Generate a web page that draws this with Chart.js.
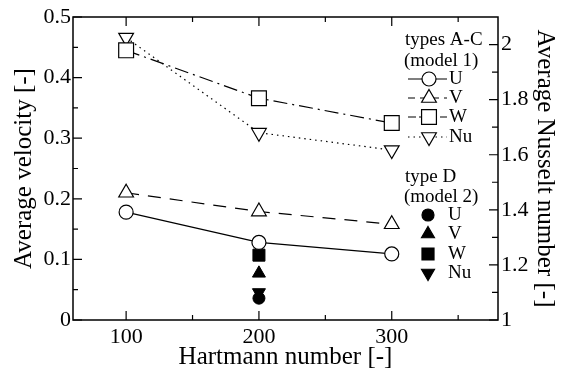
<!DOCTYPE html>
<html>
<head>
<meta charset="utf-8">
<script src="https://cdn.jsdelivr.net/npm/chart.js@4.4.1/dist/chart.umd.min.js"></script>
<style>
  body { margin: 0; background: #fff; }
  #wrap { width: 565px; height: 372px; }
</style>
</head>
<body>
<div id="wrap"><canvas id="hartmannChart" width="565" height="372"></canvas></div>
<script>
// types A-C (model 1)
const hartmann = [100, 200, 300];
const uModel1 = [0.178, 0.128, 0.109];
const vModel1 = [0.210, 0.179, 0.158];
const wModel1 = [0.445, 0.366, 0.325];
const nuModel1 = [2.025, 1.68, 1.617];

// type D (model 2)
const hartmannD = [200];
const uModel2 = [0.036];
const vModel2 = [0.077];
const wModel2 = [0.107];
const nuModel2 = [1.10];

// ticks
const xTicks = [100, 200, 300];
const xMinor = [150, 250, 350];
const velTicks = [0, 0.1, 0.2, 0.3, 0.4, 0.5];
const velMinor = [0.05, 0.15, 0.25, 0.35, 0.45];
const nuTicks = [1, 1.2, 1.4, 1.6, 1.8, 2];
const nuMinor = [1.1, 1.3, 1.5, 1.7, 1.9];

const serif = "'Liberation Serif', 'DejaVu Serif', serif";
Chart.defaults.font.family = serif;
Chart.defaults.color = '#000';

function pts(xs, ys) {
    return xs.map((x, i) => ({ x: x, y: ys[i] }));
}

const plainNum = v => String(+v.toFixed(2));
const noGrid = { display: false, drawTicks: false, tickLength: 0 };

// frame + inward ticks
const framePlugin = {
    id: 'frameTicks',
    afterDraw(chart) {
        const ctx = chart.ctx;
        const a = chart.chartArea;
        const sx = chart.scales.x, sy = chart.scales.y, sy2 = chart.scales.y2;
        ctx.save();
        ctx.strokeStyle = '#000';
        ctx.lineWidth = 1.5;
        ctx.strokeRect(a.left, a.top, a.right - a.left, a.bottom - a.top);
        ctx.lineWidth = 1.2;
        ctx.beginPath();
        const xt = (v, len) => {
            const p = sx.getPixelForValue(v);
            ctx.moveTo(p, a.bottom); ctx.lineTo(p, a.bottom - len);
            ctx.moveTo(p, a.top); ctx.lineTo(p, a.top + len);
        };
        xTicks.forEach(v => xt(v, 9));
        xMinor.forEach(v => xt(v, 5));
        const lt = (v, len) => {
            const p = sy.getPixelForValue(v);
            ctx.moveTo(a.left, p); ctx.lineTo(a.left + len, p);
        };
        velTicks.forEach(v => lt(v, 9));
        velMinor.forEach(v => lt(v, 5));
        const rt = (v, len) => {
            const p = sy2.getPixelForValue(v);
            ctx.moveTo(a.right, p); ctx.lineTo(a.right - len, p);
        };
        nuTicks.forEach(v => rt(v, 9));
        nuMinor.forEach(v => rt(v, 6));
        ctx.stroke();
        ctx.restore();
    }
};

const legendPlugin = {
    id: 'modelLegend',
    afterDraw(chart) {
        const ctx = chart.ctx;
        ctx.save();
        ctx.font = '19px ' + serif;
        ctx.fillStyle = '#000';
        ctx.textBaseline = 'middle';
        ctx.textAlign = 'left';
        ctx.fillText('types A-C', 405, 40);
        ctx.fillText('(model 1)', 404, 61);
        const open = [
            { label: 'U', y: 79, dash: [], style: 'circle', r: 7, rot: 0 },
            { label: 'V', y: 98, dash: [7, 5], style: 'triangle', r: 8.5, rot: 0 },
            { label: 'W', y: 117, dash: [8, 3, 2, 3], style: 'rect', r: 10.5, rot: 0 },
            { label: 'Nu', y: 137, dash: [1.5, 4], style: 'triangle', r: 8.5, rot: 180 }
        ];
        open.forEach(e => {
            ctx.strokeStyle = '#000';
            ctx.lineWidth = 1.2;
            ctx.setLineDash(e.dash);
            ctx.beginPath();
            ctx.moveTo(408, e.y); ctx.lineTo(447, e.y);
            ctx.stroke();
            ctx.setLineDash([]);
            ctx.fillStyle = '#fff';
            Chart.helpers.drawPoint(ctx, { pointStyle: e.style, radius: e.r, rotation: e.rot, borderWidth: 1.2 }, 429, e.y);
            ctx.fillStyle = '#000';
            ctx.fillText(e.label, 449, e.y);
        });
        ctx.fillText('type D', 405, 177);
        ctx.fillText('(model 2)', 404, 197);
        const filled = [
            { label: 'U', y: 215, style: 'circle', r: 6, rot: 0 },
            { label: 'V', y: 234, style: 'triangle', r: 7.5, rot: 0 },
            { label: 'W', y: 254, style: 'rect', r: 8.5, rot: 0 },
            { label: 'Nu', y: 273, style: 'triangle', r: 7.5, rot: 180 }
        ];
        filled.forEach(e => {
            ctx.fillStyle = '#000';
            ctx.strokeStyle = '#000';
            Chart.helpers.drawPoint(ctx, { pointStyle: e.style, radius: e.r, rotation: e.rot, borderWidth: 1 }, 428, e.y);
            ctx.fillText(e.label, 448, e.y);
        });
        ctx.restore();
    }
};

function openSeries(label, xs, ys, axis, dash, style, radius, rotation) {
    return {
        label: label,
        data: pts(xs, ys),
        yAxisID: axis,
        borderColor: '#000',
        borderWidth: 1.2,
        borderDash: dash,
        pointStyle: style,
        pointRadius: radius,
        pointRotation: rotation,
        pointBorderWidth: 1.2,
        pointBackgroundColor: '#fff',
        pointBorderColor: '#000',
        fill: false,
        tension: 0
    };
}

function filledSeries(label, xs, ys, axis, style, radius, rotation) {
    return {
        label: label,
        data: pts(xs, ys),
        yAxisID: axis,
        showLine: false,
        pointStyle: style,
        pointRadius: radius,
        pointRotation: rotation,
        pointBorderWidth: 1,
        pointBackgroundColor: '#000',
        pointBorderColor: '#000'
    };
}

const ctx = document.getElementById('hartmannChart').getContext('2d');
const chart = new Chart(ctx, {
    type: 'line',
    data: {
        datasets: [
            openSeries('U', hartmann, uModel1, 'y', [], 'circle', 7, 0),
            openSeries('V', hartmann, vModel1, 'y', [13, 9], 'triangle', 8.5, 0),
            openSeries('W', hartmann, wModel1, 'y', [14, 5, 2, 5], 'rect', 10.5, 0),
            openSeries('Nu', hartmann, nuModel1, 'y2', [1.5, 4], 'triangle', 8.5, 180),
            filledSeries('U (D)', hartmannD, uModel2, 'y', 'circle', 6, 0),
            filledSeries('V (D)', hartmannD, vModel2, 'y', 'triangle', 7.5, 0),
            filledSeries('W (D)', hartmannD, wModel2, 'y', 'rect', 8.5, 0),
            filledSeries('Nu (D)', hartmannD, nuModel2, 'y2', 'triangle', 7.5, 180)
        ]
    },
    options: {
        responsive: false,
        animation: false,
        layout: { padding: { top: 17, left: 0, right: 0, bottom: 0 } },
        plugins: {
            legend: { display: false },
            tooltip: { enabled: false }
        },
        scales: {
            x: {
                type: 'linear',
                min: 60,
                max: 380,
                grid: noGrid,
                border: { display: false },
                ticks: { font: { size: 22 }, padding: 4, callback: plainNum },
                afterBuildTicks: s => { s.ticks = xTicks.map(v => ({ value: v })); },
                afterFit: s => { s.height = 52; },
                title: { display: true, text: 'Hartmann number [-]', font: { size: 25 }, padding: { top: 3, bottom: 0 } }
            },
            y: {
                position: 'left',
                min: 0,
                max: 0.5,
                grid: noGrid,
                border: { display: false },
                ticks: { font: { size: 22 }, padding: 2, callback: plainNum },
                afterBuildTicks: s => { s.ticks = velTicks.map(v => ({ value: v })); },
                afterFit: s => { s.width = 73; },
                title: { display: true, text: 'Average velocity [-]', font: { size: 25 }, padding: { top: 9, bottom: 0 } }
            },
            y2: {
                position: 'right',
                min: 1,
                max: 2.1,
                grid: noGrid,
                border: { display: false },
                ticks: { font: { size: 22 }, padding: 3, callback: plainNum },
                afterBuildTicks: s => { s.ticks = nuTicks.map(v => ({ value: v })); },
                afterFit: s => { s.width = 67; },
                title: { display: true, text: 'Average Nusselt number [-]', font: { size: 25 }, padding: { top: 5, bottom: 0 } }
            }
        }
    },
    plugins: [framePlugin, legendPlugin]
});
</script>
</body>
</html>
